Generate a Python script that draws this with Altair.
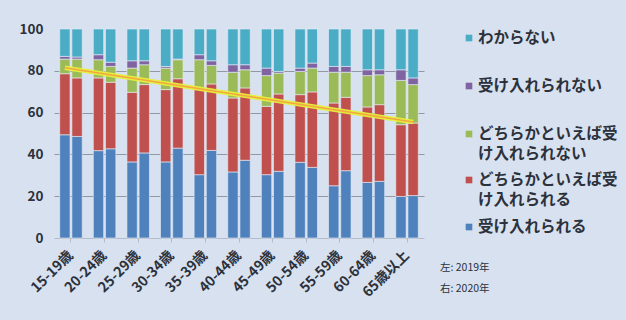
import altair as alt
import pandas as pd

ages = ["15-19歳", "20-24歳", "25-29歳", "30-34歳", "35-39歳", "40-44歳",
        "45-49歳", "50-54歳", "55-59歳", "60-64歳", "65歳以上"]
years = ["2019", "2020"]
cats = ["受け入れられる", "どちらかといえば受け入れられる",
        "どちらかといえば受け入れられない", "受け入れられない", "わからない"]
colors = ["#4f81bd", "#c0504d", "#9bbb59", "#8064a2", "#4bacc6"]

# 2019 (left bars)
accept_2019 = [49.4, 41.8, 36.4, 36.4, 30.3, 31.6, 30.3, 36.2, 25.0, 26.6, 19.9]
rather_accept_2019 = [29.2, 34.8, 33.3, 34.6, 41.0, 35.4, 32.7, 32.4, 39.6, 36.1, 34.3]
rather_not_2019 = [7.0, 8.7, 11.6, 10.3, 14.0, 12.3, 14.7, 11.1, 14.7, 15.0, 21.2]
not_accept_2019 = [1.3, 2.4, 3.5, 0.8, 2.4, 3.6, 3.6, 1.6, 2.8, 2.8, 5.1]
unknown_2019 = [13.1, 12.3, 15.2, 17.9, 12.3, 17.1, 18.7, 18.7, 17.9, 19.5, 19.5]

# 2020 (right bars)
accept_2020 = [48.6, 42.7, 40.7, 43.0, 41.9, 37.2, 31.9, 33.8, 32.2, 27.1, 20.3]
rather_accept_2020 = [28.0, 31.8, 32.7, 33.2, 31.8, 34.6, 37.0, 36.1, 35.1, 36.7, 34.7]
rather_not_2020 = [9.0, 7.6, 9.5, 9.1, 8.9, 8.7, 10.0, 11.4, 12.0, 14.3, 18.4]
not_accept_2020 = [1.0, 2.0, 1.9, 0.3, 2.2, 2.4, 0.8, 2.4, 2.8, 2.4, 3.2]
unknown_2020 = [13.4, 15.9, 15.2, 14.4, 15.2, 17.1, 20.3, 16.3, 17.9, 19.5, 23.4]

# trend line endpoints
trend_ages = ["15-19歳", "65歳以上"]
trend_years = ["2019", "2020"]
trend_values = [81.5, 55.5]

legend_lines = [["わからない"], ["受け入れられない"],
                ["どちらかといえば受", "け入れられない"],
                ["どちらかといえば受", "け入れられる"], ["受け入れられる"]]
legend_colors = ["#4bacc6", "#8064a2", "#9bbb59", "#c0504d", "#4f81bd"]
note_lines = ["左: 2019年", "右: 2020年"]

series = {
    "2019": [accept_2019, rather_accept_2019, rather_not_2019, not_accept_2019, unknown_2019],
    "2020": [accept_2020, rather_accept_2020, rather_not_2020, not_accept_2020, unknown_2020],
}
rows = []
for y in years:
    for ci, c in enumerate(cats):
        for ai, a in enumerate(ages):
            rows.append({"age": a, "year": y, "cat": c, "order": ci, "value": series[y][ci][ai]})
df = pd.DataFrame(rows)

trend = pd.DataFrame({"age": trend_ages, "year": trend_years, "value": trend_values})

W, H = 370, 209
PL, PT = 54, 29
FONT = "Noto Sans CJK JP"
TXT = "#2c313b"

xenc = alt.X("age:N", sort=ages, title=None,
             scale=alt.Scale(paddingInner=0.33, paddingOuter=0.17),
             axis=alt.Axis(labelAngle=-45, labelAlign="right", labelBaseline="middle",
                           labelFontSize=14, labelFontWeight="bold", labelColor=TXT,
                           labelFont=FONT, labelPadding=11,
                           domainColor="#b4bccb", tickColor="#b4bccb", tickSize=4,
                           ticks=True))
xoff = alt.XOffset("year:N", sort=years, scale=alt.Scale(paddingInner=0.15))

yenc = alt.Y("value:Q", stack="zero", title=None,
             scale=alt.Scale(domain=[0, 100], nice=False),
             axis=alt.Axis(values=[0, 20, 40, 60, 80, 100], labelFontSize=13.5,
                           labelFontWeight="bold", labelColor=TXT, labelFont=FONT,
                           domain=False, ticks=False, labelPadding=11,
                           gridColor="#7f8691", gridWidth=1,
                           gridOpacity={"condition": {"test": "datum.value == 100 || datum.value == 0", "value": 0}, "value": 0.8}))

bars = alt.Chart(df).mark_bar(stroke="#e8eef8", strokeWidth=0.6).encode(
    x=xenc, xOffset=xoff, y=yenc,
    color=alt.Color("cat:N", sort=cats, scale=alt.Scale(domain=cats, range=colors), legend=None),
    order=alt.Order("order:Q"),
)

tl_x = alt.X("age:N", sort=ages)
tl_xo = alt.XOffset("year:N", sort=years)
tl_y = alt.Y("value:Q")
trend_wide = alt.Chart(trend).mark_line(color="#e6f03c", strokeWidth=4.5, opacity=0.95).encode(
    x=tl_x, xOffset=tl_xo, y=tl_y)
trend_core = alt.Chart(trend).mark_line(color="#f4a640", strokeWidth=1.5).encode(
    x=tl_x, xOffset=tl_xo, y=tl_y)

layers = [bars, trend_wide, trend_core]

legend_y = [38, 86, 134, 180, 227]
line_h = 20
for i, lines in enumerate(legend_lines):
    ly = legend_y[i] - PT
    sq = alt.Chart(pd.DataFrame({"c": [legend_colors[i]]})).mark_square(
        size=44, color=legend_colors[i], opacity=1).encode(
        x=alt.value(469 - PL), y=alt.value(ly))
    layers.append(sq)
    for j, t in enumerate(lines):
        tx = alt.Chart(pd.DataFrame({"t": [t]})).mark_text(
            align="left", baseline="middle", fontSize=15.5, fontWeight="bold",
            font=FONT, color=TXT).encode(
            x=alt.value(478 - PL), y=alt.value(ly + j * line_h), text="t:N")
        layers.append(tx)

for j, t in enumerate(note_lines):
    tx = alt.Chart(pd.DataFrame({"t": [t]})).mark_text(
        align="left", baseline="middle", fontSize=10.5, font=FONT, color=TXT).encode(
        x=alt.value(440 - PL), y=alt.value(268 - PT + j * 21), text="t:N")
    layers.append(tx)

chart = alt.layer(*layers).properties(
    width=W, height=H,
    autosize=alt.AutoSizeParams(type="none"),
    padding={"left": PL, "top": PT, "right": 626 - PL - W, "bottom": 320 - PT - H},
    background="#d8e1ef",
).configure_view(stroke=None).configure_axis(grid=True).configure_axisX(grid=False)

chart.save("out.html", embed_options={"renderer": "svg", "actions": False})
